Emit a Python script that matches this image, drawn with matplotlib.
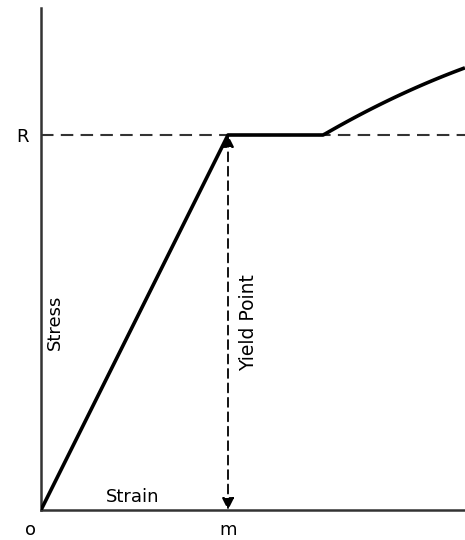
import matplotlib.pyplot as plt
import matplotlib.transforms as mtransforms
import numpy as np

# strain / stress in units of m and R
strain = [0.0, 1.0, 1.508, 1.706, 1.882, 2.064, 2.267]
stress = [0.0, 1.0, 1.0, 1.053, 1.099, 1.139, 1.179]

x_ticks = [0, 1]
x_labels = ['o', 'm']
y_ticks = [1]
y_labels = ['R']
yield_strain = 1.0
yield_stress = 1.0

plt.rcParams['font.family'] = ['DejaVu Sans']

fig = plt.figure(figsize=(4.65, 5.4), dpi=100)
ax = fig.add_axes([41/465, 30/540, 424/465, 502/540])

ax.set_xlim(0, 424/187)
ax.set_ylim(0, 502/375)

# smooth the hardening part a bit
xs = np.array(strain[2:])
ys = np.array(stress[2:])
coef = np.polyfit(xs, ys, 2)
xh = np.linspace(xs[0], xs[-1], 60)
yh = np.polyval(coef, xh)
yh[0] = ys[0]
xc = np.concatenate([strain[:2], xh])
yc = np.concatenate([stress[:2], yh])

ax.axhline(yield_stress, color='#333333', lw=1.5, ls=(0, (6, 3.5)), zorder=1)
ax.plot(xc, yc, color='black', lw=2.6, solid_capstyle='butt', zorder=3)

ax.annotate('', xy=(yield_strain, yield_stress), xytext=(yield_strain, 0),
            arrowprops=dict(arrowstyle='<|-|>', color='black', lw=1.3, ls=(0, (5, 3)),
                            mutation_scale=18, shrinkA=0, shrinkB=0))

ax.text(0.075, 0.5, 'Stress', rotation=90, ha='center', va='center', fontsize=13)
ax.text(1.11, 0.5, 'Yield Point', rotation=90, ha='center', va='center', fontsize=13.5)
ax.text(0.49, 0.036, 'Strain', ha='center', va='center', fontsize=13)

for s in ['top', 'right']:
    ax.spines[s].set_visible(False)
for s in ['left', 'bottom']:
    ax.spines[s].set_color('#333333')
    ax.spines[s].set_linewidth(1.8)

ax.set_xticks(x_ticks, x_labels, fontsize=13)
ax.set_yticks(y_ticks, y_labels, fontsize=13)
ax.tick_params(axis='x', length=0, pad=8)
ax.tick_params(axis='y', length=0, pad=9)

# the 'o' sits a little left of the corner
lbl = ax.get_xticklabels()[0]
lbl.set_transform(lbl.get_transform() + mtransforms.ScaledTranslation(-0.1, 0, fig.dpi_scale_trans))

fig.savefig('out.png', dpi=100)
